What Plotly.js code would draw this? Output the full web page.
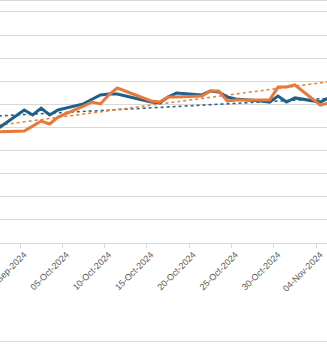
<!DOCTYPE html>
<html>
<head>
<meta charset="utf-8">
<script src="https://cdn.plot.ly/plotly-3.0.1.min.js"></script>
<style>
  html, body { margin: 0; padding: 0; background: #ffffff; }
  #chart { width: 327px; height: 344px; }
</style>
</head>
<body>
<div id="chart"></div>
<script>
// Trading days
const dates = [
  '2024-09-27','2024-09-30','2024-10-01','2024-10-02','2024-10-03','2024-10-04',
  '2024-10-07','2024-10-08','2024-10-09','2024-10-10','2024-10-11',
  '2024-10-14','2024-10-15','2024-10-16','2024-10-17','2024-10-18',
  '2024-10-21','2024-10-22','2024-10-23','2024-10-24','2024-10-25',
  '2024-10-28','2024-10-29','2024-10-30','2024-10-31','2024-11-01',
  '2024-11-04','2024-11-05'
];
const seriesBlue = [
  49.8, 57.6, 55.4, 58.4, 55.4, 57.6,
  60.2, 62.3, 64.1, 64.5, 64.5,
  61.9, 61.0, 60.6, 63.2, 64.9,
  64.1, 65.8, 65.4, 63.2, 62.3,
  61.5, 61.0, 63.6, 61.0, 62.8,
  61.0, 62.8
];
const seriesOrange = [
  48.1, 48.5, 50.6, 52.8, 51.5, 54.5,
  59.3, 61.0, 60.2, 64.1, 67.1,
  62.8, 61.5, 61.0, 63.2, 63.2,
  63.6, 65.8, 65.8, 61.5, 61.9,
  61.9, 61.9, 67.5, 67.5, 68.4,
  59.7, 60.6
];
// Linear trendlines (end values)
const trendDates = ['2024-09-27', '2024-11-05'];
const trendBlue = [55.0, 62.6];
const trendOrange = [51.0, 69.8];

const tickDates = ['2024-09-30','2024-10-05','2024-10-10','2024-10-15',
                   '2024-10-20','2024-10-25','2024-10-30','2024-11-04'];
const tickLabels = ['30-Sep-2024','05-Oct-2024','10-Oct-2024','15-Oct-2024',
                    '20-Oct-2024','25-Oct-2024','30-Oct-2024','04-Nov-2024'];

// points sit in the middle of each day's interval
const mid = d => d + ' 12:00';

const traces = [
  { x: trendDates.map(mid), y: trendBlue, type: 'scatter', mode: 'lines',
    line: { color: '#2a6587', width: 1.6, dash: 'dot' }, hoverinfo: 'skip' },
  { x: trendDates.map(mid), y: trendOrange, type: 'scatter', mode: 'lines',
    line: { color: '#e8853f', width: 1.6, dash: 'dot' }, hoverinfo: 'skip' },
  { x: dates.map(mid), y: seriesBlue, type: 'scatter', mode: 'lines',
    line: { color: '#1f6089', width: 3 } },
  { x: dates.map(mid), y: seriesOrange, type: 'scatter', mode: 'lines',
    line: { color: '#e8793a', width: 3 } }
];

const layout = {
  width: 327, height: 344,
  margin: { l: 0, r: 0, t: 0, b: 101, pad: 0 },
  paper_bgcolor: '#ffffff', plot_bgcolor: '#ffffff',
  showlegend: false,
  font: { family: 'Liberation Sans, Arial, sans-serif', color: '#595959' },
  xaxis: {
    type: 'date',
    range: ['2024-09-27 15:16', '2024-11-05 07:00'],
    tickmode: 'array', tickvals: tickDates, ticktext: tickLabels,
    tickangle: -45, tickfont: { size: 9, color: '#595959' },
    ticklabeloverflow: 'allow', ticklabelshift: 4, ticklabelstandoff: -2,
    ticks: 'outside', ticklen: 4, tickcolor: '#d9d9d9',
    showline: true, linecolor: '#d9d9d9', linewidth: 1,
    showgrid: false, zeroline: false, fixedrange: true
  },
  yaxis: {
    range: [0, 105.19], tick0: 0, dtick: 10,
    showticklabels: false, ticks: '',
    showgrid: true, gridcolor: '#d9d9d9', gridwidth: 1,
    zeroline: false, showline: false, fixedrange: true
  },
  shapes: [
    { type: 'line', xref: 'paper', yref: 'paper', x0: 0, x1: 1, y0: 0.998, y1: 0.998,
      line: { color: '#d9d9d9', width: 1 } },
    { type: 'line', xref: 'paper', yref: 'paper', x0: 0, x1: 1, y0: -0.405, y1: -0.405,
      line: { color: '#d9d9d9', width: 1 } }
  ]
};

Plotly.newPlot('chart', traces, layout, { staticPlot: true, displayModeBar: false });
</script>
</body>
</html>
